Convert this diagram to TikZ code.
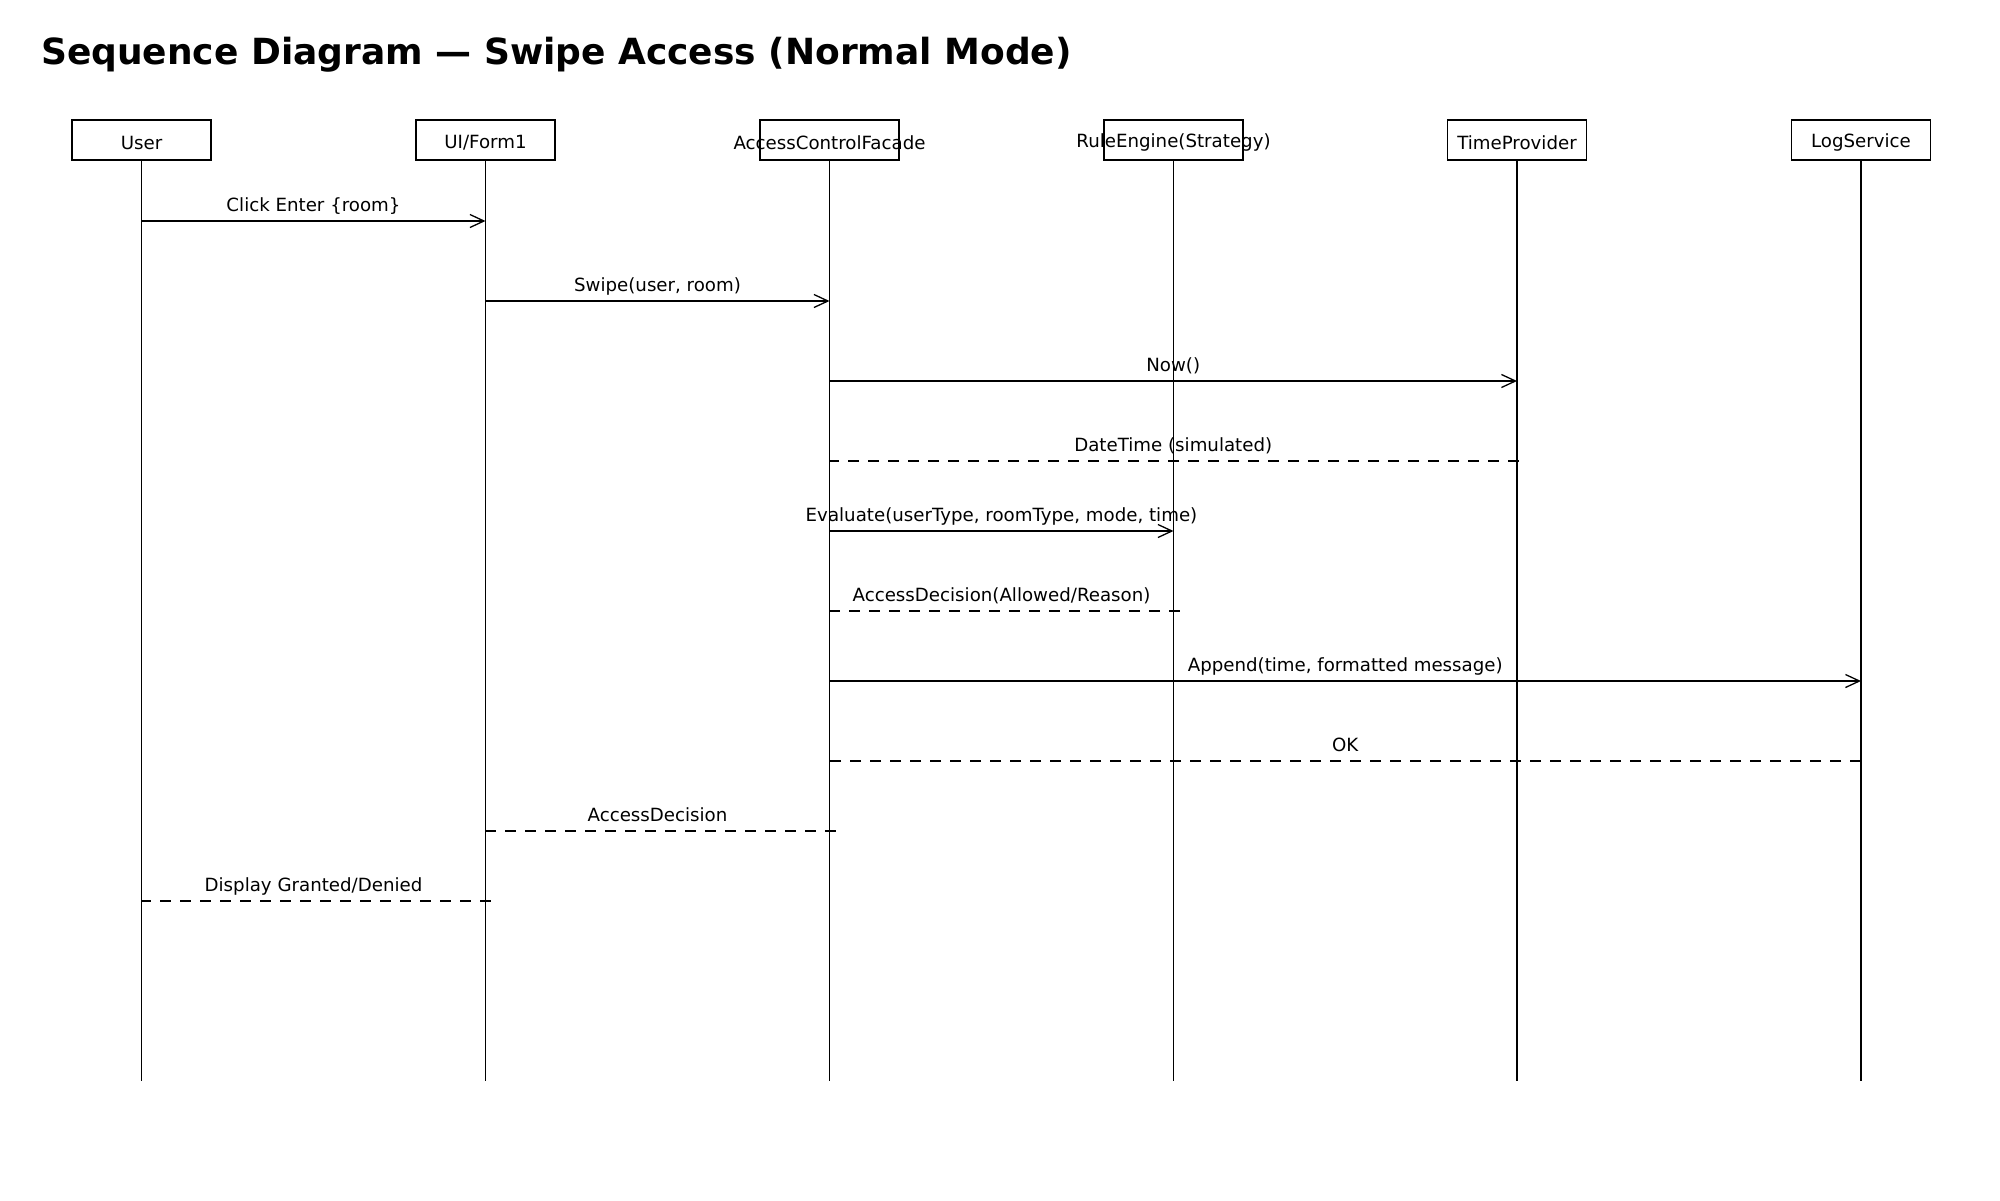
\documentclass[tikz,border=0pt]{standalone}
\usepackage{fontspec}
\setmainfont{DejaVu Sans}
\usetikzlibrary{arrows.meta}
\begin{document}
\begin{tikzpicture}[x=1pt,y=-1pt,
  actorbox/.style={draw=black, line width=1.9pt, minimum width=139pt, minimum height=40pt, inner sep=0pt},
  actorlabel/.style={font=\fontsize{18.2}{22}\selectfont, inner sep=0pt},
  lifeline/.style={line width=1.9pt},
  msg/.style={line width=2.1pt, -{Straight Barb[length=14pt,width=13pt,line width=1.3pt]}},
  ret/.style={line width=2.1pt, dash pattern=on 11pt off 9pt},
  lbl/.style={font=\fontsize{18.2}{22}\selectfont, inner sep=0pt, anchor=base, yshift=9.6pt}
]
\useasboundingbox[fill=white] (0,0) rectangle (2000,1200);

\node[anchor=base west, inner sep=0pt, font=\fontsize{36}{43}\selectfont\bfseries] (title) at (41,64.5) {Sequence Diagram — Swipe Access (Normal Mode)};

% actors
\node[actorbox] (user) at (141.5,140) {};
\node[actorbox] (ui)   at (485.5,140) {};
\node[actorbox] (acf)  at (829.5,140) {};
\node[actorbox] (rule) at (1173.5,140) {};
\node[actorbox] (time) at (1517,140) {};
\node[actorbox] (log)  at (1861,140) {};

\node[actorlabel] (userL) at ([yshift=-2.8pt]user.center) {User};
\node[actorlabel] (uiL)   at ([yshift=-2.8pt]ui.center) {UI/Form1};
\node[actorlabel] (acfL)  at ([yshift=-2.8pt]acf.center) {AccessControlFacade};
\node[actorlabel] (ruleL) at ([yshift=-2.8pt]rule.center) {RuleEngine(Strategy)};
\node[actorlabel] (timeL) at ([yshift=-2.8pt]time.center) {TimeProvider};
\node[actorlabel] (logL)  at ([yshift=-2.8pt]log.center) {LogService};

% lifeline ends
\coordinate (bottom) at (0,1081);
\foreach \a in {user,ui,acf,rule,time,log}
  \draw[lifeline] (\a.south) -- (\a |- bottom);

% message levels
\coordinate (y1) at (0,221);
\coordinate (y2) at (0,301);
\coordinate (y3) at (0,381);
\coordinate (y4) at (0,461);
\coordinate (y5) at (0,531);
\coordinate (y6) at (0,611);
\coordinate (y7) at (0,681);
\coordinate (y8) at (0,761);
\coordinate (y9) at (0,831);
\coordinate (y10) at (0,901);

\draw[msg] (user |- y1) -- node[lbl] {Click Enter \{room\}} (ui |- y1);
\draw[msg] (ui |- y2) -- node[lbl] {Swipe(user, room)} (acf |- y2);
\draw[msg] (acf |- y3) -- node[lbl] {Now()} (time |- y3);
\draw[ret, shorten <=-2pt] (time |- y4) -- node[lbl] {DateTime (simulated)} (acf |- y4);
\draw[msg] (acf |- y5) -- node[lbl] {Evaluate(userType, roomType, mode, time)} (rule |- y5);
\draw[ret, shorten <=-6pt] (rule |- y6) -- node[lbl] {AccessDecision(Allowed/Reason)} (acf |- y6);
\draw[msg] (acf |- y7) -- node[lbl] {Append(time, formatted message)} (log |- y7);
\draw[ret] (log |- y8) -- node[lbl] {OK} (acf |- y8);
\draw[ret, shorten <=-6pt] (acf |- y9) -- node[lbl] {AccessDecision} (ui |- y9);
\draw[ret, shorten <=-5pt] (ui |- y10) -- node[lbl] {Display Granted/Denied} (user |- y10);
\end{tikzpicture}
\end{document}
